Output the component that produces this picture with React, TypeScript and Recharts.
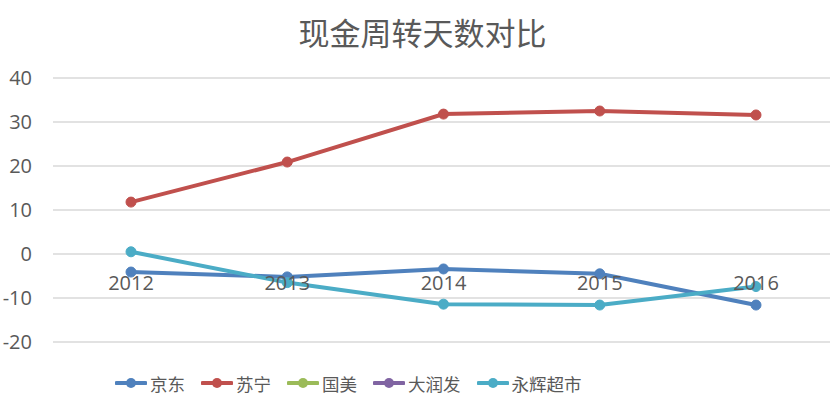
import React from 'react';
import { LineChart, Line, XAxis, YAxis, CartesianGrid, LabelList } from 'recharts';

const years = ['2012', '2013', '2014', '2015', '2016'];
const jingdong = [-4.1, -5.2, -3.4, -4.5, -11.6];
const suning = [11.8, 20.9, 31.8, 32.5, 31.6];
const guomei: (number | null)[] = [null, null, null, null, null];
const darunfa: (number | null)[] = [null, null, null, null, null];
const yonghui = [0.5, -6.5, -11.4, -11.6, -7.4];
const axisCross = [0, 0, 0, 0, 0];
const yTicks = [-20, -10, 0, 10, 20, 30, 40];

const series = [
  { key: 'jd', name: '京东', values: jingdong, color: '#4F81BD' },
  { key: 'sn', name: '苏宁', values: suning, color: '#C0504D' },
  { key: 'gm', name: '国美', values: guomei, color: '#9BBB59' },
  { key: 'drf', name: '大润发', values: darunfa, color: '#8064A2' },
  { key: 'yh', name: '永辉超市', values: yonghui, color: '#4BACC6' },
];

const data = years.map((y, i) => {
  const row: any = { year: y, axis: axisCross[i] };
  series.forEach((s) => { row[s.key] = s.values[i]; });
  return row;
});

const textColor = '#595959';

export default function App() {
  return (
    <div style={{ position: 'absolute', left: 0, top: 0, width: 830, height: 397, background: '#fff', overflow: 'hidden' }}>
      <div style={{ position: 'absolute', left: 0, top: 12, width: 845, textAlign: 'center', fontFamily: '"Noto Sans CJK SC", sans-serif', fontSize: 31, color: textColor, lineHeight: '40px' }}>
        现金周转天数对比
      </div>
      <LineChart width={830} height={397} data={data} margin={{ top: 78, right: -4, bottom: 55, left: 0 }}>
        <CartesianGrid horizontal vertical={false} stroke="#D9D9D9" strokeWidth={1.3} />
        <XAxis dataKey="year" hide padding={{ left: 78, right: 78 }} />
        <YAxis domain={[-20, 40]} ticks={yTicks} width={53} tickLine={false} axisLine={false} tickSize={0} tickMargin={21}
          tick={{ fill: textColor, fontSize: 20, fontFamily: '"Open Sans", sans-serif' }} interval={0} />
        <Line dataKey="axis" stroke="none" dot={false} isAnimationActive={false} activeDot={false}>
          <LabelList dataKey="year" position="bottom" offset={22} fill={textColor} fontSize={20} fontFamily='"Open Sans", sans-serif' />
        </Line>
        {series.map((s) => (
          <Line key={s.key} dataKey={s.key} name={s.name} stroke={s.color} strokeWidth={4}
            dot={{ r: 5, fill: s.color, stroke: s.color, strokeWidth: 1 }} activeDot={false}
            isAnimationActive={false} connectNulls={false} />
        ))}
      </LineChart>
      <div style={{ position: 'absolute', left: 115, top: 370, height: 26, display: 'flex', alignItems: 'center', fontFamily: '"Noto Sans CJK SC", sans-serif', fontSize: 17.5, color: textColor }}>
        {series.map((s) => (
          <div key={s.key} style={{ display: 'flex', alignItems: 'center', marginRight: 16 }}>
            <svg width={32} height={14} style={{ marginRight: 3 }}>
              <line x1={1.5} y1={7} x2={30.5} y2={7} stroke={s.color} strokeWidth={4} strokeLinecap="round" />
              <circle cx={16} cy={7} r={5} fill={s.color} />
            </svg>
            <span>{s.name}</span>
          </div>
        ))}
      </div>
    </div>
  );
}
